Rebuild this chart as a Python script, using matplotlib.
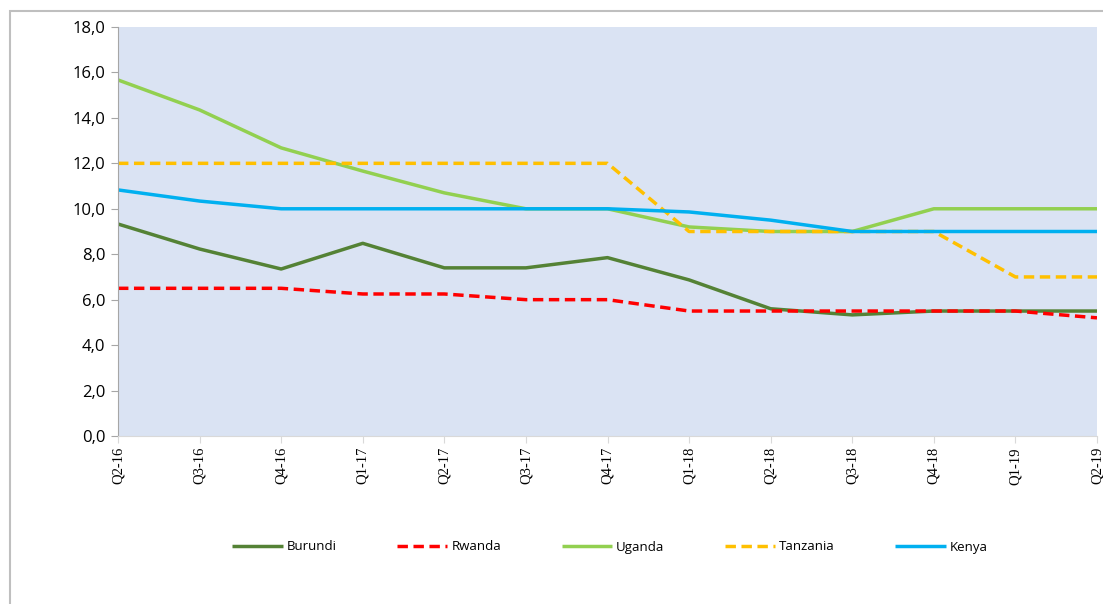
import numpy as np
import matplotlib.pyplot as plt
from matplotlib.patches import Rectangle

quarters = ['Q2-16', 'Q3-16', 'Q4-16', 'Q1-17', 'Q2-17', 'Q3-17', 'Q4-17',
            'Q1-18', 'Q2-18', 'Q3-18', 'Q4-18', 'Q1-19', 'Q2-19']

burundi = [9.33, 8.23, 7.35, 8.48, 7.4, 7.4, 7.85, 6.87, 5.6, 5.33, 5.5, 5.5, 5.5]
rwanda = [6.5, 6.5, 6.5, 6.25, 6.25, 6.0, 6.0, 5.5, 5.5, 5.5, 5.5, 5.5, 5.2]
uganda = [15.67, 14.35, 12.68, 11.66, 10.7, 10.0, 10.0, 9.2, 9.0, 9.0, 10.0, 10.0, 10.0]
tanzania = [12.0, 12.0, 12.0, 12.0, 12.0, 12.0, 12.0, 9.0, 9.0, 9.0, 9.0, 7.0, 7.0]
kenya = [10.83, 10.34, 10.0, 10.0, 10.0, 10.0, 10.0, 9.86, 9.5, 9.0, 9.0, 9.0, 9.0]

series = [
    ('Burundi', burundi, '#548235', '-'),
    ('Rwanda', rwanda, '#FF0000', (0, (3, 1.6))),
    ('Uganda', uganda, '#92D050', '-'),
    ('Tanzania', tanzania, '#FFC000', (0, (3, 1.6))),
    ('Kenya', kenya, '#00B0F0', '-'),
]

fig = plt.figure(figsize=(11.03, 6.04), dpi=100)
W, H = 1103, 604
ax = fig.add_axes([118 / W, 1 - 436 / H, (1097 - 118) / W, (436 - 27) / H])
ax.set_facecolor('#DAE3F3')

# outer chart frame
fig.patches.append(Rectangle((10 / W, -0.01), 1.1, 1 - 11 / H + 0.01,
                             transform=fig.transFigure, fill=False,
                             edgecolor='#BFBFBF', linewidth=1.5))

x = np.arange(len(quarters))
for name, vals, color, ls in series:
    ax.plot(x, vals, color=color, linestyle=ls, linewidth=2.5, label=name,
            solid_capstyle='butt')

ax.set_xlim(0, len(quarters) - 1)
ax.set_ylim(0, 18)
ax.set_yticks(np.arange(0, 19, 2))
ax.set_yticklabels(['{:.1f}'.format(v).replace('.', ',') for v in range(0, 19, 2)],
                   fontsize=12, family='Open Sans')
ax.set_xticks(x)
ax.set_xticklabels(quarters, rotation=90, fontsize=10.5, family='Liberation Serif')

for s in ['top', 'right']:
    ax.spines[s].set_visible(False)
ax.spines['left'].set_color('#A6A6A6')
ax.spines['bottom'].set_color('#D9D9D9')
ax.tick_params(axis='y', length=5, color='#A6A6A6', pad=4)
ax.tick_params(axis='x', length=5, color='#D9D9D9', pad=3)

leg = fig.legend(loc='center', bbox_to_anchor=(610 / W, 1 - 547 / H), ncol=5,
                 frameon=False, handlelength=3.8, columnspacing=4.6,
                 handletextpad=0.3, prop={'family': 'Open Sans', 'size': 9.5})

fig.savefig('out.png', dpi=100)
